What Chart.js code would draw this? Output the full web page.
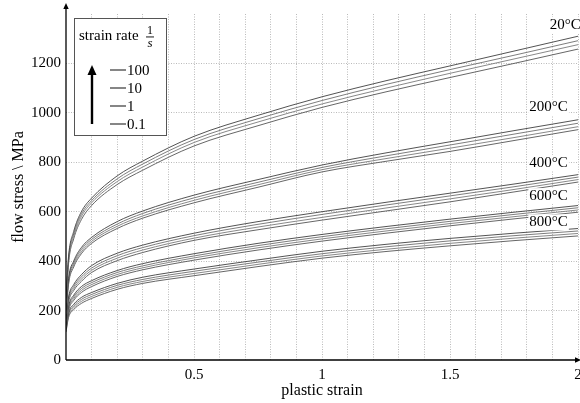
<!DOCTYPE html>
<html><head><meta charset="utf-8">
<script src="https://cdn.jsdelivr.net/npm/chart.js@4/dist/chart.umd.min.js"></script>
<style>html,body{margin:0;padding:0;background:#fff}</style>
</head><body>
<canvas id="c" width="580" height="403"></canvas>
<script>
const strains = [0, 0.01, 0.03, 0.06, 0.1, 0.2, 0.3, 0.5, 0.75, 1, 1.25, 1.5, 1.75, 2];
const temps = ['20°C', '200°C', '400°C', '600°C', '800°C'];
const rates = ['100', '10', '1', '0.1'];

const t20_r100 = [250, 420, 520, 600, 655, 745, 805, 905, 990, 1065, 1130, 1190, 1250, 1310];
const t20_r10  = [240, 410, 510, 590, 645, 733, 793, 892, 976, 1050, 1115, 1175, 1233, 1292];
const t20_r1   = [230, 400, 500, 580, 636, 722, 781, 880, 963, 1036, 1100, 1160, 1218, 1276];
const t20_r01  = [220, 390, 490, 568, 625, 710, 768, 866, 948, 1022, 1085, 1143, 1200, 1258];

const t200_r100 = [200, 330, 400, 455, 496, 560, 603, 667, 730, 789, 838, 883, 928, 972];
const t200_r10  = [193, 322, 392, 447, 488, 550, 593, 656, 719, 779, 826, 870, 914, 958];
const t200_r1   = [186, 314, 384, 438, 480, 541, 583, 646, 709, 770, 815, 857, 900, 944];
const t200_r01  = [180, 306, 376, 430, 472, 532, 574, 636, 699, 761, 804, 844, 888, 932];

const t400_r100 = [165, 255, 305, 345, 382, 432, 465, 513, 560, 600, 638, 675, 712, 750];
const t400_r10  = [160, 248, 297, 336, 372, 422, 455, 503, 549, 589, 627, 664, 701, 740];
const t400_r1   = [155, 241, 289, 327, 363, 412, 445, 493, 538, 577, 615, 652, 690, 730];
const t400_r01  = [150, 234, 281, 318, 354, 402, 435, 484, 527, 566, 603, 640, 680, 720];

const t600_r100 = [140, 218, 262, 297, 321, 362, 390, 430, 472, 508, 540, 570, 598, 625];
const t600_r10  = [136, 212, 255, 289, 313, 354, 381, 421, 463, 499, 531, 561, 589, 616];
const t600_r1   = [132, 206, 248, 281, 305, 346, 373, 413, 454, 490, 522, 552, 580, 607];
const t600_r01  = [128, 200, 241, 273, 297, 338, 365, 404, 445, 481, 513, 543, 571, 598];

const t800_r100 = [125, 190, 225, 253, 273, 310, 335, 368, 405, 440, 468, 492, 513, 532];
const t800_r10  = [121, 184, 218, 245, 265, 302, 326, 359, 396, 430, 458, 482, 503, 522];
const t800_r1   = [117, 178, 211, 237, 257, 294, 318, 350, 387, 421, 448, 472, 493, 512];
const t800_r01  = [113, 172, 204, 229, 249, 286, 310, 341, 378, 412, 439, 462, 483, 502];

const series = [
  [t20_r100, t20_r10, t20_r1, t20_r01],
  [t200_r100, t200_r10, t200_r1, t200_r01],
  [t400_r100, t400_r10, t400_r1, t400_r01],
  [t600_r100, t600_r10, t600_r1, t600_r01],
  [t800_r100, t800_r10, t800_r1, t800_r01]
];
// temperature label anchors (data coordinates)
const labelStrain = [1.89, 1.81, 1.81, 1.81, 1.81];
const labelStress = [1355, 1022, 798, 663, 557];

const FONT = '"Liberation Serif", "Times New Roman", serif';
const lineColors = ['#404040', '#6e6e6e', '#7a7a7a', '#555555'];

const datasets = [];
series.forEach((grp, ti) => {
  grp.forEach((vals, ri) => {
    datasets.push({
      label: temps[ti] + ' ' + rates[ri],
      data: strains.map((s, i) => ({x: s, y: vals[i]})),
      borderColor: lineColors[ri],
      borderWidth: 0.9,
      pointRadius: 0,
      fill: false,
      cubicInterpolationMode: 'monotone'
    });
  });
});

function arrowHead(ctx, x, y, dir, size) {
  ctx.beginPath();
  if (dir === 'up') {
    ctx.moveTo(x, y); ctx.lineTo(x - size * 0.45, y + size); ctx.lineTo(x + size * 0.45, y + size);
  } else {
    ctx.moveTo(x, y); ctx.lineTo(x - size, y - size * 0.45); ctx.lineTo(x - size, y + size * 0.45);
  }
  ctx.closePath(); ctx.fill();
}

const decor = {
  id: 'decor',
  afterDatasetsDraw(chart) {
    const ctx = chart.ctx;
    const xs = chart.scales.x, ys = chart.scales.y;
    const ca = chart.chartArea;
    ctx.save();
    // axes
    ctx.strokeStyle = '#000'; ctx.fillStyle = '#000'; ctx.lineWidth = 1.3;
    ctx.beginPath(); ctx.moveTo(ca.left, ca.bottom); ctx.lineTo(ca.left, 6); ctx.stroke();
    arrowHead(ctx, ca.left, 3, 'up', 6);
    ctx.beginPath(); ctx.moveTo(ca.left, ca.bottom); ctx.lineTo(ca.right, ca.bottom); ctx.stroke();
    arrowHead(ctx, ca.right + 3, ca.bottom, 'right', 6);
    // temperature labels
    ctx.font = '15px ' + FONT;
    ctx.textAlign = 'left'; ctx.textBaseline = 'middle';
    temps.forEach((t, i) => {
      const px = xs.getPixelForValue(labelStrain[i]);
      const py = ys.getPixelForValue(labelStress[i]);
      ctx.fillStyle = '#fff';
      const w = ctx.measureText(t).width;
      ctx.fillRect(px - 1, py - 8, w + 2, 16);
      ctx.fillStyle = '#000';
      ctx.fillText(t, px, py);
    });
    // legend box
    const bx = 74, by = 18, bw = 92, bh = 117;
    ctx.fillStyle = '#fff'; ctx.fillRect(bx, by, bw, bh);
    ctx.strokeStyle = '#555'; ctx.lineWidth = 1; ctx.strokeRect(bx + 0.5, by + 0.5, bw, bh);
    ctx.fillStyle = '#000';
    ctx.font = '15px ' + FONT; ctx.textBaseline = 'alphabetic';
    ctx.fillText('strain rate', 79, 40);
    ctx.font = '12px ' + FONT; ctx.textAlign = 'center';
    ctx.fillText('1', 150, 34);
    ctx.font = 'italic 13px ' + FONT;
    ctx.fillText('s', 150, 47);
    ctx.fillRect(146, 36.5, 8, 0.9);
    // strain-rate arrow
    ctx.strokeStyle = '#000'; ctx.lineWidth = 2.4;
    ctx.beginPath(); ctx.moveTo(92, 124); ctx.lineTo(92, 73); ctx.stroke();
    ctx.fillStyle = '#000'; arrowHead(ctx, 92, 65, 'up', 10);
    // rate entries
    ctx.font = '15px ' + FONT; ctx.textAlign = 'left'; ctx.textBaseline = 'middle';
    const rowY = [70, 88, 106, 124];
    rates.forEach((r, i) => {
      ctx.strokeStyle = '#444'; ctx.lineWidth = 1.3;
      ctx.beginPath(); ctx.moveTo(110, rowY[i]); ctx.lineTo(126, rowY[i]); ctx.stroke();
      ctx.fillStyle = '#000';
      ctx.fillText(r, 127, rowY[i] + 1);
    });
    ctx.restore();
  }
};

new Chart(document.getElementById('c'), {
  type: 'line',
  data: {datasets},
  options: {
    responsive: false,
    animation: false,
    layout: {padding: {top: 14, right: 2, left: 0, bottom: 0}},
    plugins: {legend: {display: false}, tooltip: {enabled: false}},
    scales: {
      x: {
        type: 'linear', min: 0, max: 2,
        afterFit(s) { s.height = 43; s.paddingLeft = 0; s.paddingRight = 0; },
        border: {display: false, dash: [1, 1.5]},
        grid: {color: c => (c.tick && c.tick.value > 0.001) ? '#a8a8a8' : 'rgba(0,0,0,0)', lineWidth: 0.8, drawTicks: false},
        ticks: {
          stepSize: 0.1, autoSkip: false, maxRotation: 0, padding: 6,
          color: '#000', font: {family: FONT, size: 15},
          callback: v => {
            const h = Math.round(v * 2);
            if (Math.abs(v * 2 - h) < 1e-6 && h > 0) return String(h / 2);
            return '';
          }
        },
        title: {display: true, text: 'plastic strain', color: '#000', font: {family: FONT, size: 16}, padding: {bottom: 3, top: 0}}
      },
      y: {
        type: 'linear', min: 0, max: 1400,
        afterFit(s) { s.width = 66; s.paddingTop = 0; s.paddingBottom = 0; },
        border: {display: false, dash: [1, 1.5]},
        grid: {color: c => (c.tick && c.tick.value > 0 && c.tick.value < 1400) ? '#a8a8a8' : 'rgba(0,0,0,0)', lineWidth: 0.8, drawTicks: false},
        ticks: {
          stepSize: 200, padding: 5, color: '#000', font: {family: FONT, size: 15},
          callback: v => (v >= 1400 ? '' : String(v))
        },
        title: {display: true, text: 'flow stress \\ MPa', color: '#000', font: {family: FONT, size: 16}, padding: {top: 9, bottom: 0}}
      }
    }
  },
  plugins: [decor]
});
</script>
</body></html>
